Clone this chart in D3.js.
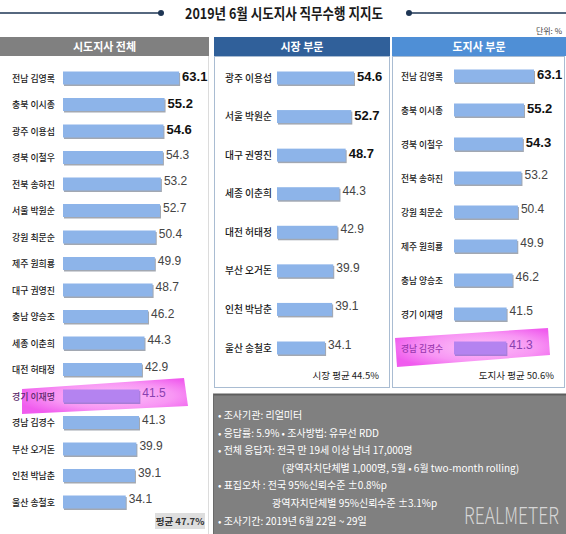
<!DOCTYPE html>
<html><head><meta charset="utf-8">
<script src="https://cdn.jsdelivr.net/npm/d3@7"></script>
<style>
body{margin:0;background:#fff;}
svg{display:block;}
text{font-family:"Noto Sans CJK KR","Noto Sans",sans-serif;}
.num{font-family:"Liberation Sans",Arial,sans-serif;}
</style></head>
<body>
<script>
// ---- data ----
const title = "2019년 6월 시도지사 직무수행 지지도";
const unitLabel = "단위: %";
const panelTitles = ["시도지사 전체", "시장 부문", "도지사 부문"];

const allNames = ["전남 김영록","충북 이시종","광주 이용섭","경북 이철우","전북 송하진","서울 박원순","강원 최문순","제주 원희룡","대구 권영진","충남 양승조","세종 이춘희","대전 허태정","경기 이재명","경남 김경수","부산 오거돈","인천 박남춘","울산 송철호"];
const allValues = [63.1,55.2,54.6,54.3,53.2,52.7,50.4,49.9,48.7,46.2,44.3,42.9,41.5,41.3,39.9,39.1,34.1];

const cityNames = ["광주 이용섭","서울 박원순","대구 권영진","세종 이춘희","대전 허태정","부산 오거돈","인천 박남춘","울산 송철호"];
const cityValues = [54.6,52.7,48.7,44.3,42.9,39.9,39.1,34.1];

const provNames = ["전남 김영록","충북 이시종","경북 이철우","전북 송하진","강원 최문순","제주 원희룡","충남 양승조","경기 이재명","경남 김경수"];
const provValues = [63.1,55.2,54.3,53.2,50.4,49.9,46.2,41.5,41.3];

const averages = ["평균 47.7%","시장 평균 44.5%","도지사 평균 50.6%"];
const highlightAll = "경기 이재명";
const highlightProv = "경남 김경수";

const notes = [
  "• 조사기관: 리얼미터",
  "• 응답률: 5.9% • 조사방법: 유무선 RDD",
  "• 전체 응답자: 전국 만 19세 이상 남녀 17,000명",
  "(광역자치단체별 1,000명, 5월 • 6월 two-month rolling)",
  "• 표집오차 : 전국 95%신뢰수준 ±0.8%p",
  "광역자치단체별 95%신뢰수준 ±3.1%p",
  "• 조사기간: 2019년 6월 22일 ~ 29일"
];
const noteIndent = [0,0,0,64,0,54,0];
const brand = "REALMETER";

// ---- drawing ----
const W=566,H=534;
const svg=d3.select("body").append("svg").attr("width",W).attr("height",H);
const defs=svg.append("defs");
const rg=defs.append("radialGradient").attr("id","hl").attr("cx","55%").attr("cy","50%").attr("r","60%");
rg.append("stop").attr("offset","0%").attr("stop-color","#fcc2f8");
rg.append("stop").attr("offset","60%").attr("stop-color","#f896f4");
rg.append("stop").attr("offset","100%").attr("stop-color","#f05cee");

// title
const navy="#1e3654";
svg.append("line").attr("x1",0).attr("x2",161).attr("y1",13).attr("y2",13).attr("stroke",navy).attr("stroke-width",1.5);
svg.append("circle").attr("cx",161).attr("cy",13).attr("r",3).attr("fill",navy);
svg.append("line").attr("x1",409).attr("x2",W).attr("y1",13).attr("y2",13).attr("stroke",navy).attr("stroke-width",1.5);
svg.append("circle").attr("cx",409).attr("cy",13).attr("r",3).attr("fill",navy);
svg.append("text").attr("x",284).attr("y",18.5).attr("text-anchor","middle")
  .attr("font-size",15).attr("font-weight","bold").attr("fill","#1a1a1a")
  .attr("textLength",198).attr("lengthAdjust","spacingAndGlyphs").text(title);
svg.append("text").attr("x",562).attr("y",34).attr("text-anchor","end").attr("font-size",8).attr("fill","#444").text(unitLabel);

// headers
const headers=[{x:0,w:209,c:"#808080"},{x:214,w:176,c:"#30609a"},{x:392,w:174,c:"#4f8fd6"}];
headers.forEach((h,i)=>{
  svg.append("rect").attr("x",h.x).attr("y",37).attr("width",h.w).attr("height",19).attr("fill",h.c);
  svg.append("text").attr("x",h.x+h.w/2).attr("y",50.5).attr("text-anchor","middle")
    .attr("font-size",11).attr("font-weight","bold").attr("fill","#fff").text(panelTitles[i]);
});

// panel frames
svg.append("line").attr("x1",208.5).attr("x2",208.5).attr("y1",56).attr("y2",H).attr("stroke","#dcdcdc");
svg.append("rect").attr("x",214.5).attr("y",56.5).attr("width",175).attr("height",331).attr("fill","#fff").attr("stroke","#a9bcd2");
svg.append("rect").attr("x",392.5).attr("y",56.5).attr("width",172).attr("height",331).attr("fill","#fff").attr("stroke","#a9bcd2");

function panel(names, values, o){
  const y=d3.scalePoint().domain(names).range([o.y0,o.y1]);
  const x=d3.scaleLinear().domain([0,100]).range([o.x0,o.x0+o.k*100]);
  const g=svg.append("g");
  const top3=values.slice().sort((a,b)=>b-a).slice(0,3);
  names.forEach((n,i)=>{
    const cy=y(n), v=values[i];
    const hl = n===o.hl;
    if(hl){
      const p=o.poly.map(([dx,dy])=>[dx,cy+dy]);
      g.append("path").attr("d","M"+p.map(d=>d.join(",")).join("L")+"Z").attr("fill","url(#hl)");
    }
    const bh=13;
    g.append("rect").attr("x",x(0)+1).attr("y",cy-bh/2+1.5).attr("width",x(v)-x(0)).attr("height",bh).attr("fill", hl?"#a77cd6":"#a2a8b2");
    g.append("rect").attr("x",x(0)).attr("y",cy-bh/2).attr("width",x(v)-x(0)).attr("height",bh).attr("fill", hl?"#b483f0":"#8db4e9");
    g.append("text").attr("x",o.lx).attr("y",cy+3.5).attr("font-size",o.fs).attr("font-weight",500).attr("fill", hl? o.hlText : "#1a1a1a")
      .attr("textLength",o.tl).attr("lengthAdjust","spacingAndGlyphs").text(n);
    const bold=top3.includes(v) && !hl;
    g.append("text").attr("class","num").attr("x",x(v)+3).attr("y",cy+(bold?3:1))
      .attr("font-size",bold?13:12).attr("font-weight",bold?"bold":"normal")
      .attr("fill", hl? "#8a3fb0" : (bold?"#111":"#444")).text(v.toFixed(1));
  });
}

panel(allNames, allValues, {y0:78,y1:502,x0:63,k:1.84,lx:12,fs:9.5,tl:43,hl:highlightAll,hlText:"#5a2a6a",
  poly:[[22,-7],[184,-18],[188,10],[22,18]]});
panel(cityNames, cityValues, {y0:78,y1:348,x0:277,k:1.41,lx:225,fs:10,tl:47});
panel(provNames, provValues, {y0:76,y1:348,x0:454,k:1.268,lx:401,fs:9.5,tl:42,hl:highlightProv,hlText:"#9a38b0",
  poly:[[395,-10],[548,-20],[550,7],[397,19]]});

// averages
svg.append("rect").attr("x",155).attr("y",513).attr("width",50).attr("height",16).attr("fill","#dedede");
svg.append("text").attr("x",180).attr("y",525).attr("text-anchor","middle").attr("font-size",9.5).attr("font-weight","bold").attr("fill","#333").text(averages[0]);
svg.append("text").attr("x",379).attr("y",379).attr("text-anchor","end").attr("font-size",9.5).attr("fill","#222").text(averages[1]);
svg.append("text").attr("x",554).attr("y",379).attr("text-anchor","end").attr("font-size",9.5).attr("fill","#222").text(averages[2]);

// notes box
svg.append("rect").attr("x",213).attr("y",394).attr("width",353).attr("height",140).attr("fill","#808080");
svg.append("line").attr("x1",213).attr("x2",W).attr("y1",394.5).attr("y2",394.5).attr("stroke","#5e5e5e").attr("stroke-width",2);
svg.append("line").attr("x1",213.5).attr("x2",213.5).attr("y1",394).attr("y2",H).attr("stroke","#6a6a6a");
notes.forEach((t,i)=>{
  svg.append("text").attr("x",218+noteIndent[i]).attr("y",419+i*17.6).attr("font-size",10).attr("fill","#fff").text(t);
});
const bt=svg.append("text").attr("x",0).attr("y",0).attr("font-size",23).attr("font-weight",300)
  .attr("font-family","'Open Sans','DejaVu Sans',sans-serif").attr("fill","#d6d6d6").text(brand);
const bl=bt.node().getComputedTextLength();
bt.attr("transform",`translate(464,524) scale(${95/bl},1)`);
</script>
</body></html>
